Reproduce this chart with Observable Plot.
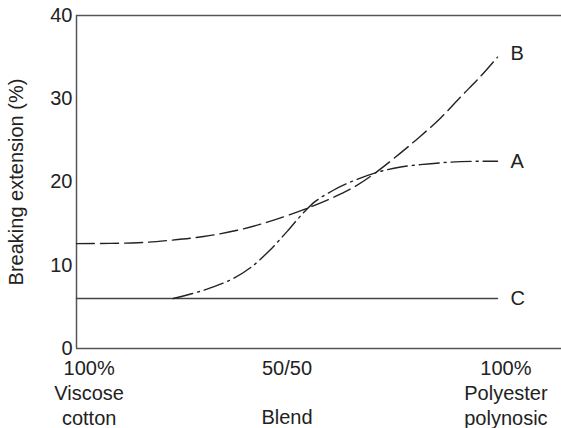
<!DOCTYPE html>
<html>
<head>
<meta charset="utf-8">
<script src="https://cdn.jsdelivr.net/npm/d3@7"></script>
<script src="https://cdn.jsdelivr.net/npm/@observablehq/plot@0.6"></script>
<style>
  html, body { margin: 0; padding: 0; background: #fff; }
</style>
</head>
<body>
<div id="chart"></div>
<script>
// Series A (dash-dot), B (dashed), C (solid); x = blend position (0 = 100% viscose/cotton, 100 = 100% polyester/polynosic)
const xA = [23.0, 30.2, 36.6, 41.3, 46.1, 50.1, 53.9, 56.8, 60.8, 65.1, 71.0, 77.0, 84.1, 91.2, 100];
const yA = [6.0, 7.0, 8.25, 9.7, 11.9, 14.1, 16.3, 17.7, 18.95, 20.0, 21.1, 21.8, 22.2, 22.45, 22.5];
const xB = [0, 14.5, 22.3, 30.2, 38.2, 46.1, 55.6, 60.8, 66.3, 71.0, 77.0, 81.7, 86.5, 91.2, 96.0, 100];
const yB = [12.6, 12.7, 13.0, 13.45, 14.2, 15.3, 17.0, 18.1, 19.5, 21.1, 23.5, 25.5, 27.7, 30.2, 32.7, 35.0];
const xC = [0, 100];
const yC = [6, 6];

const seriesNames = ["A", "B", "C"];
const seriesLabelY = [22.5, 35.4, 6];
const seriesLabelX = [100, 100, 100];

const yTicks = [0, 10, 20, 30, 40];
const xTickLabels = ["100%\nViscose\ncotton", "50/50", "100%\nPolyester\npolynosic"];
const xTickPos = [3, 50, 102];
const xTitle = "Blend";
const yTitle = "Breaking extension (%)";

const toPts = (xs, ys) => xs.map((x, i) => ({x, y: ys[i]}));
const A = toPts(xA, yA), B = toPts(xB, yB), C = toPts(xC, yC);
const ticks = xTickLabels.map((t, i) => ({t, x: xTickPos[i]}));
const labels = seriesNames.map((n, i) => ({n, x: seriesLabelX[i], y: seriesLabelY[i]}));
const FS = 20;

const chart = Plot.plot({
  width: 561,
  height: 428,
  marginLeft: 76,
  marginRight: 0,
  marginTop: 15,
  marginBottom: 80,
  style: {fontFamily: "'Liberation Sans', Arial, sans-serif", fontSize: FS + "px", color: "#222", background: "#fff"},
  x: {domain: [0, 115.2], axis: null},
  y: {domain: [0, 40], axis: null},
  marks: [
    Plot.axisY({ticks: yTicks, tickSize: 0, tickPadding: 4, fontSize: FS, label: null}),
    Plot.text([yTitle], {frameAnchor: "left", textAnchor: "middle", rotate: -90, dx: -60, text: d => d, fontSize: FS, fill: "#222"}),
    Plot.ruleY([0, 40], {stroke: "#555", strokeWidth: 1.5}),
    Plot.ruleX([0], {stroke: "#555", strokeWidth: 1.5}),
    Plot.line(C, {x: "x", y: "y", stroke: "#444", strokeWidth: 1.5}),
    Plot.line(B, {x: "x", y: "y", stroke: "#222", strokeWidth: 1.4, curve: "catmull-rom", strokeDasharray: "18,6"}),
    Plot.line(A, {x: "x", y: "y", stroke: "#222", strokeWidth: 1.4, curve: "catmull-rom", strokeDasharray: "20,5,2,5"}),
    Plot.text(labels, {x: "x", y: "y", text: "n", dx: 13, textAnchor: "start", fontSize: FS, fill: "#222"}),
    Plot.text(ticks, {x: "x", y: () => 0, text: "t", lineAnchor: "top", dy: 9, lineHeight: 1.25, fontSize: FS, fill: "#222"}),
    Plot.text([xTitle], {x: () => 50, y: () => 0, text: d => d, lineAnchor: "top", dy: 61, fontSize: FS, fill: "#222"})
  ]
});
document.getElementById("chart").appendChild(chart);
</script>
</body>
</html>
